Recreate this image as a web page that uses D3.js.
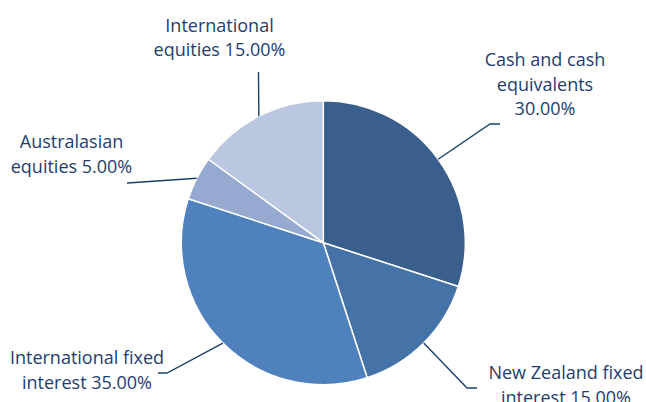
<!DOCTYPE html>
<html><head><meta charset="utf-8">
<script src="https://cdn.jsdelivr.net/npm/d3@7"></script>
<style>body{margin:0;background:#fff}svg{display:block}text{font-family:"Open Sans","Noto Sans",sans-serif;font-size:18px;fill:#1f3d6e}</style>
</head><body><svg id="c" width="646" height="402"></svg>
<script>
const categories = ["Cash and cash equivalents","New Zealand fixed interest","International fixed interest","Australasian equities","International equities"];
const values = [30,15,35,5,15];
const labelLines = [["Cash and cash","equivalents","30.00%"],["New Zealand fixed","interest 15.00%"],["International fixed","interest 35.00%"],["Australasian","equities 5.00%"],["International","equities 15.00%"]];
const colors = ["#3b5f8d","#4573a7","#4f81bc","#95a9d1","#b9c7e0"];

// layout (positions only)
const cx = 323.3, cy = 242.7, R = 142;
const labelLayout = [
  {x:545, y:66, elbow:[490,124], end:[500,124]},
  {x:566, y:379, elbow:[467,388], end:[477,388]},
  {x:87, y:364, elbow:[167,373], end:[158,373]},
  {x:71.5, y:148, elbow:[135,182.5], end:[127,183]},
  {x:219.5, y:31.5, elbow:null, end:[258.5,72]}
];

const svg = d3.select("#c");
const g = svg.append("g").attr("transform",`translate(${cx},${cy})`);
const pie = d3.pie().sort(null).value(d=>d);
const arcs = pie(values);
const arc = d3.arc().innerRadius(0).outerRadius(R);
const color = d3.scaleOrdinal().domain(categories).range(colors);

g.selectAll("path.s").data(arcs).join("path")
  .attr("d",arc).attr("fill",(d,i)=>color(categories[i]))
  .attr("stroke","#fff").attr("stroke-width",1.5).attr("stroke-linejoin","round");

// leaders
const edge = d3.arc().innerRadius(R).outerRadius(R);
arcs.forEach((d,i)=>{
  const [sx,sy] = edge.centroid(d);
  const L = labelLayout[i];
  const pts = [[sx+cx, sy+cy]];
  if (L.elbow) pts.push(L.elbow);
  pts.push(L.end);
  svg.append("path").attr("d", d3.line()(pts))
    .attr("fill","none").attr("stroke","#1b406c").attr("stroke-width",1.4);
});

// labels
labelLines.forEach((lines,i)=>{
  const L = labelLayout[i];
  const t = svg.append("text").attr("text-anchor","middle").attr("x",L.x).attr("y",L.y);
  lines.forEach((s,j)=>{
    t.append("tspan").attr("x",L.x).attr("y",L.y + j*24.5).text(s);
  });
});
</script></body></html>
